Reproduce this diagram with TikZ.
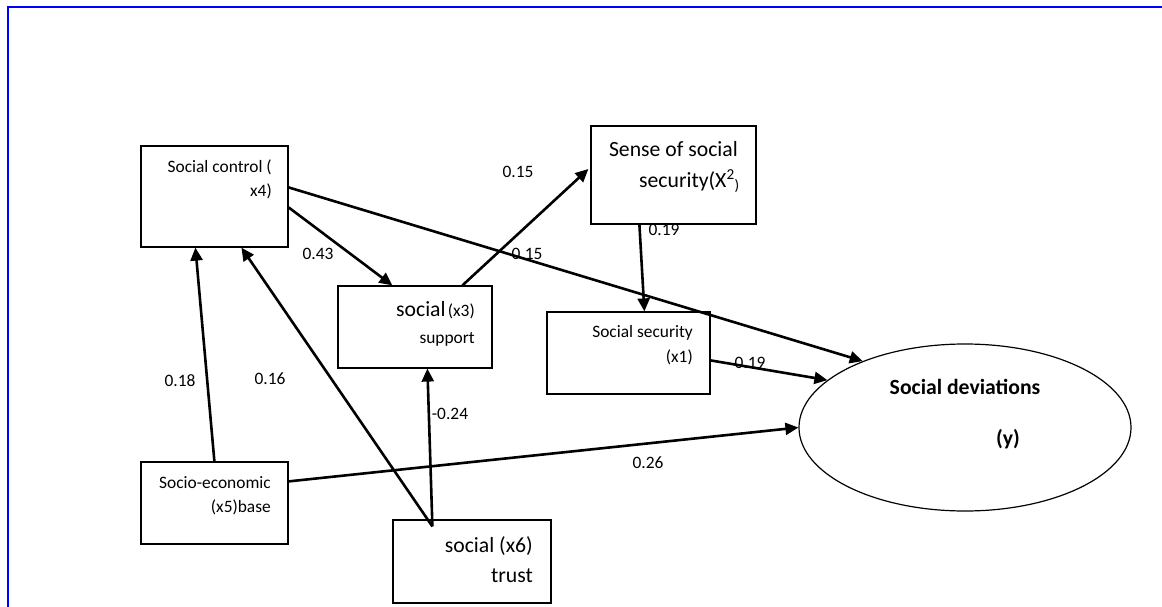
\documentclass[tikz,border=0pt]{standalone}
\usepackage{fontspec}
\setmainfont{Carlito}
\usetikzlibrary{arrows.meta,calc,shapes.geometric}
\newcommand\fsmall{\fontsize{17.4}{20}\selectfont}
\newcommand\flarge{\fontsize{21.7}{25}\selectfont}
\tikzset{
  box/.style={draw=black,line width=1.2pt,rectangle,inner sep=0pt},
  txt/.style={inner sep=0pt,anchor=base east,font=\fsmall},
  ltxt/.style={inner sep=0pt,anchor=base east,font=\flarge},
  coef/.style={inner sep=0pt,font=\fsmall},
  arr/.style={draw=black,line width=2.6pt,-{Triangle[length=13pt,width=12pt]}},
}
\begin{document}
\begin{tikzpicture}[x=1pt,y=-1pt]
\useasboundingbox (0,0) rectangle (1162,607);
% blue frame
\coordinate (fa) at (8,607);
\coordinate (fb) at (8,7);
\coordinate (fc) at (1162,7);
\draw[blue,line width=1.8pt] (fa) -- (fb) -- (fc);
% boxes
\node[box,minimum width=147pt,minimum height=101pt] (sc) at (214.5,196.5) {};
\node[box,minimum width=165pt,minimum height=98pt] (ss) at (673.5,175) {};
\node[box,minimum width=154pt,minimum height=82pt] (sup) at (415,327) {};
\node[box,minimum width=163pt,minimum height=82pt] (sec) at (628.5,353) {};
\node[box,minimum width=147pt,minimum height=82pt] (se) at (214.5,503) {};
\node[box,minimum width=158pt,minimum height=83pt] (tr) at (472,561.5) {};
\node[draw=black,line width=1.2pt,ellipse,inner sep=0pt,minimum width=332pt,minimum height=167pt] (ell) at (965,427.5) {};
% texts
\node[txt] (sct1) at (272,172) {Social control (};
\node[txt] (sct2) at (272,196) {x4)};
\node[ltxt] (sst1) at (738,157) {Sense of social};
\node[ltxt] (sst2) at (740,187) {security(X\textsuperscript{2}\textsubscript{)}};
\node[inner sep=0pt,anchor=base east] (supt1) at (475,316) {{\flarge social} {\fsmall (x3)}};
\node[txt] (supt2) at (475,343) {support};
\node[txt] (sect1) at (693,337) {Social security};
\node[txt] (sect2) at (693,362) {(x1)};
\node[txt] (set1) at (271,488) {Socio-economic};
\node[txt] (set2) at (271,512) {(x5)base};
\node[ltxt] (trt1) at (533,552) {social (x6)};
\node[ltxt] (trt2) at (533,582) {trust};
\node[inner sep=0pt,anchor=base,font=\flarge\bfseries] (ellt1) at (965,394) {Social deviations};
\node[inner sep=0pt,anchor=base,font=\flarge\bfseries] (ellt2) at (1008,445) {(y)};
% arrows
\draw[arr] ($(se.north west)+(74,0)$) -- ($(sc.south west)+(55,0)$);
\draw[arr] ($(tr.north west)+(40,7)$) -- ($(sc.south west)+(101,0)$);
\draw[arr] ($(tr.north west)+(40,7)$) -- ($(sup.south west)+(90,0)$);
\draw[arr] ($(sc.north east)+(0,62)$) -- ($(sup.north west)+(55,0)$);
\draw[arr] ($(sc.north east)+(0,42)$) -- (ell.147);
\draw[arr] ($(sup.north west)+(125,0)$) -- ($(ss.west)+(-2,-6)$);
\draw[arr] ($(ss.south west)+(49,0)$) -- ($(sec.north west)+(98,0)$);
\draw[arr] ($(sec.north east)+(0,49)$) -- (ell.161.6);
\draw[arr] ($(se.north east)+(0,20)$) -- (ell.west);
% coefficients
\node[coef] (c1) at (518,172) {0.15};
\node[coef] (c2) at (318,254) {0.43};
\node[coef] (c3) at (527,254) {0.15};
\node[coef] (c4) at (664,230) {0.19};
\node[coef] (c5) at (750,363) {0.19};
\node[coef] (c6) at (180,381) {0.18};
\node[coef] (c7) at (270,379) {0.16};
\node[coef] (c8) at (450,414) {-0.24};
\node[coef] (c9) at (648,463) {0.26};
\end{tikzpicture}
\end{document}
